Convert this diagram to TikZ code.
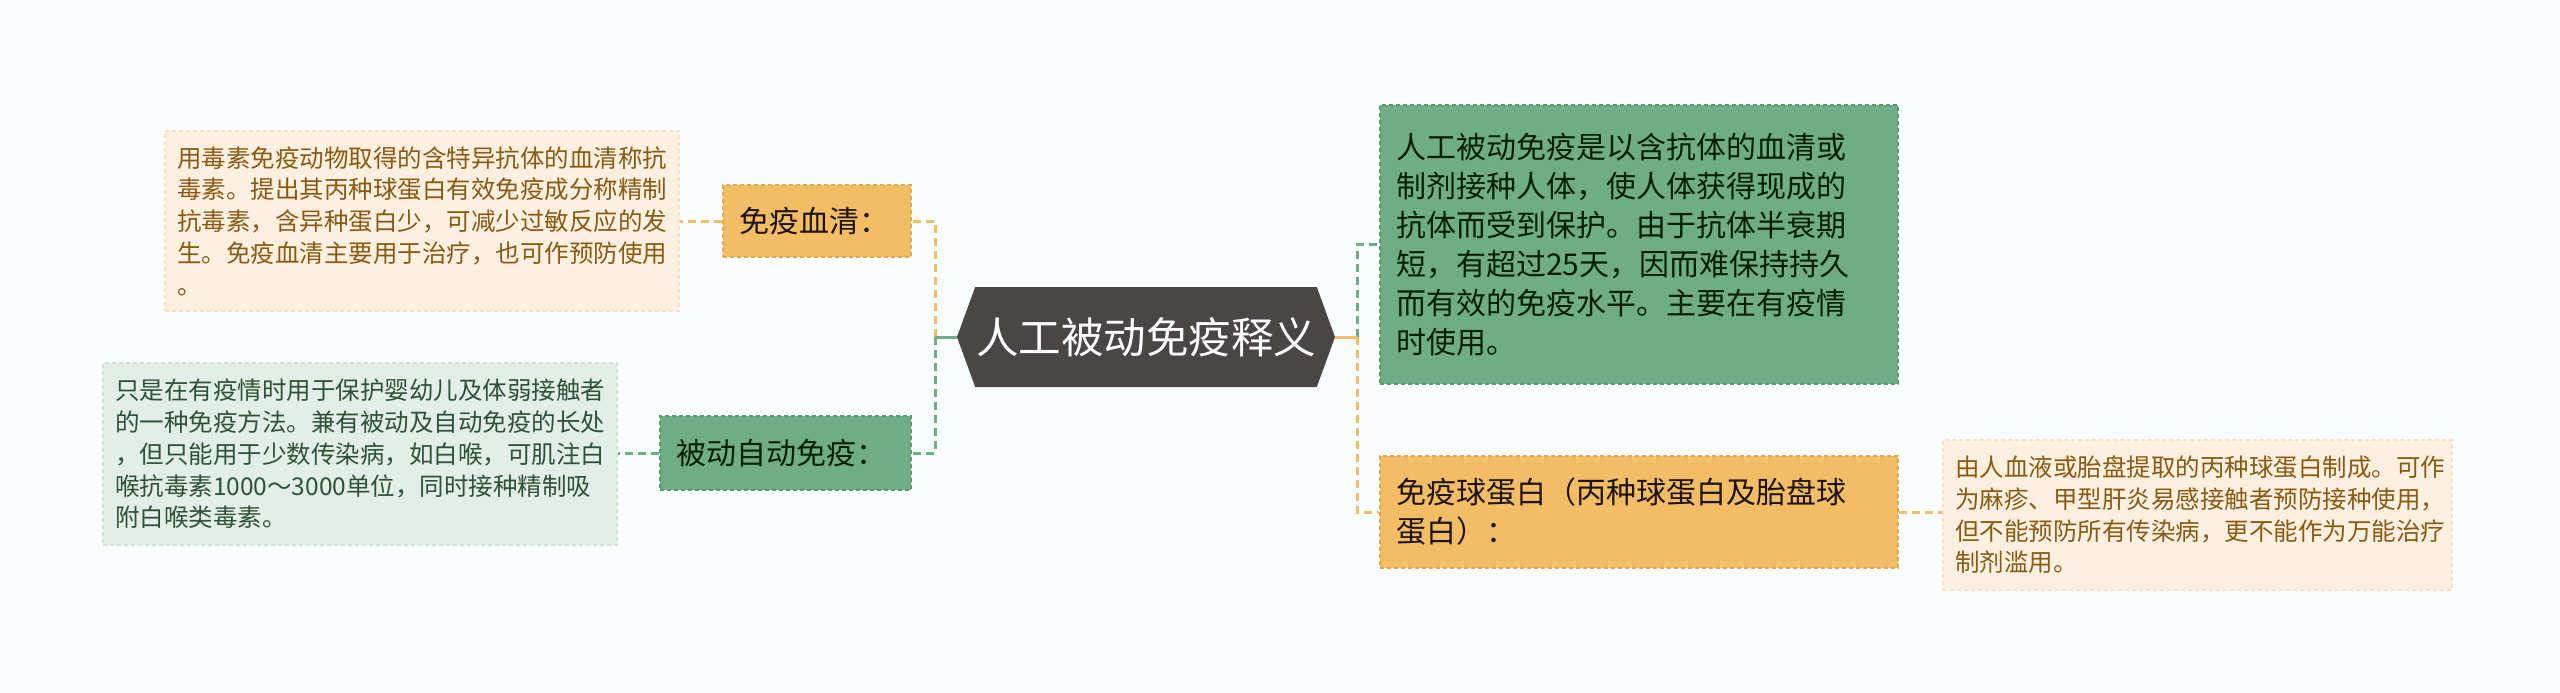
\documentclass[tikz,border=0pt]{standalone}
\usepackage{fontspec}
\setmainfont{Noto Sans CJK SC}
\usetikzlibrary{shapes.symbols, positioning}
\definecolor{bg}{HTML}{FAFDFE}
\definecolor{root-gray}{HTML}{4B4646}
\definecolor{fill-o}{HTML}{F2BD64}
\definecolor{edge-o}{HTML}{E2A84C}
\definecolor{fill-g}{HTML}{6FAE84}
\definecolor{edge-g}{HTML}{5A9A70}
\definecolor{leaf-o}{HTML}{FDF0E1}
\definecolor{leaf-o-edge}{HTML}{F6E0C6}
\definecolor{leaf-g}{HTML}{E3EFE6}
\definecolor{leaf-g-edge}{HTML}{D0E3D6}
\definecolor{text-brown}{HTML}{8A5A12}
\definecolor{text-green}{HTML}{2E5237}
\tikzstyle{root} = [signal, signal to = west and east, signal pointer angle = 140,
  fill = root-gray, text = white, minimum width = 378, minimum height = 100,
  inner sep = 0, font = \fontsize{42.5}{48}\selectfont]
\tikzstyle{box} = [rectangle, line width = 1.5pt, dash pattern = on 4pt off 3pt,
  align = left, inner ysep = 0]
\tikzstyle{box-o} = [box, fill = fill-o, draw = edge-o, text = black!85!brown,
  inner xsep = 16, font = \fontsize{30}{39}\selectfont]
\tikzstyle{box-g} = [box, fill = fill-g, draw = edge-g, text = black!80!green!60!black,
  inner xsep = 16, font = \fontsize{30}{39}\selectfont]
\tikzstyle{leaf-box-o} = [box, fill = leaf-o, draw = leaf-o-edge, text = text-brown,
  inner xsep = 12, font = \fontsize{24.5}{31.7}\selectfont]
\tikzstyle{leaf-box-g} = [box, fill = leaf-g, draw = leaf-g-edge, text = text-green,
  inner xsep = 12, font = \fontsize{24.5}{31.7}\selectfont]
\tikzstyle{link} = [line width = 3pt, dash pattern = on 8pt off 5pt]

\begin{document}
\begin{tikzpicture}[x = 1pt, y = -1pt]
      \fill [bg] (0, 0) rectangle (2560, 693);
      \useasboundingbox (0, 0) rectangle (2560, 693);
      % root
      \node [root] (box-root) at (1146, 337) {人工被动免疫释义};
      \coordinate (spine-l) at (935, 337);
      \coordinate (spine-r) at (1357, 337);
      % left
      \node [box-o, minimum height = 72, text width = 156pt] (box-l-a) at (817, 221) {免疫血清：};
      \node [box-g, minimum height = 74, text width = 219pt] (box-l-b) at (785.5, 453) {被动自动免疫：};
      \node [leaf-box-o, minimum height = 180, text width = 490pt] (box-l-a-leaf) at (422, 221)
        {用毒素免疫动物取得的含特异抗体的血清称抗\\
         毒素。提出其丙种球蛋白有效免疫成分称精制\\
         抗毒素，含异种蛋白少，可减少过敏反应的发\\
         生。免疫血清主要用于治疗，也可作预防使用\\
         。};
      \node [leaf-box-g, minimum height = 182, text width = 490pt] (box-l-b-leaf) at (360, 454)
        {只是在有疫情时用于保护婴幼儿及体弱接触者\\
         的一种免疫方法。兼有被动及自动免疫的长处\\
         ，但只能用于少数传染病，如白喉，可肌注白\\
         喉抗毒素1000～3000单位，同时接种精制吸\\
         附白喉类毒素。};
      % right
      \node [box-g, minimum height = 279, text width = 486pt] (box-r-a) at (1639, 244.5)
        {人工被动免疫是以含抗体的血清或\\
         制剂接种人体，使人体获得现成的\\
         抗体而受到保护。由于抗体半衰期\\
         短，有超过25天，因而难保持持久\\
         而有效的免疫水平。主要在有疫情\\
         时使用。};
      \node [box-o, minimum height = 112, text width = 486pt] (box-r-b) at (1639, 512)
        {免疫球蛋白（丙种球蛋白及胎盘球\\
         蛋白）：};
      \node [leaf-box-o, minimum height = 150, text width = 485pt] (box-r-b-leaf) at (2197.5, 515)
        {由人血液或胎盘提取的丙种球蛋白制成。可作\\
         为麻疹、甲型肝炎易感接触者预防接种使用，\\
         但不能预防所有传染病，更不能作为万能治疗\\
         制剂滥用。};

      \draw [link, fill-o] (spine-l) |- (box-l-a.east);
      \draw [link, fill-g] (spine-l) |- (box-l-b.east);
      \draw [line width = 3pt, fill-g] (box-root.west) -- (spine-l);
      \draw [link, fill-g] (spine-r) |- (box-r-a.west);
      \draw [link, fill-o] (spine-r) |- (box-r-b.west);
      \draw [line width = 3pt, fill-o] (box-root.east) -- (spine-r);
      \draw [link, fill-o] (box-l-a.west) -- (box-l-a-leaf.east);
      \draw [link, fill-g] (box-l-b.west) -- (box-l-b.west -| box-l-b-leaf.east);
      \draw [link, fill-o] (box-r-b.east) -- (box-r-b.east -| box-r-b-leaf.west);
    \end{tikzpicture}
\end{document}
